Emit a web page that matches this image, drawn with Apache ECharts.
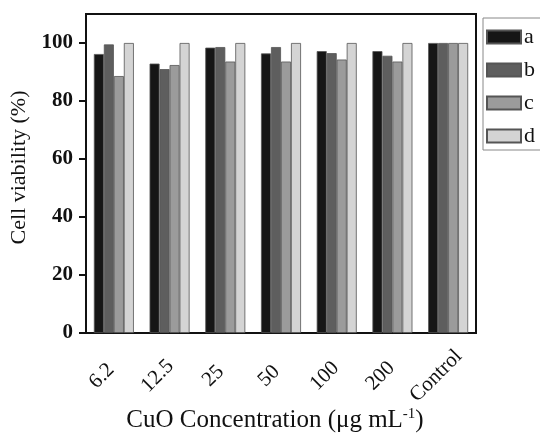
<!DOCTYPE html>
<html>
<head>
<meta charset="utf-8">
<script src="https://cdn.jsdelivr.net/npm/echarts@6/dist/echarts.min.js"></script>
<style>
  html, body { margin: 0; padding: 0; background: #fff; }
  #myChart { width: 540px; height: 433px; }
</style>
</head>
<body>
<div id="myChart"></div>
<script>
const categories = ['6.2', '12.5', '25', '50', '100', '200', 'Control']
const seriesNames = ['a', 'b', 'c', 'd']
const valuesA = [96.2, 92.9, 98.4, 96.4, 97.2, 97.2, 100]
const valuesB = [99.5, 91.0, 98.6, 98.6, 96.5, 95.6, 100]
const valuesC = [88.6, 92.4, 93.6, 93.6, 94.3, 93.6, 100]
const valuesD = [100, 100, 100, 100, 100, 100, 100]
const yTicks = [0, 20, 40, 60, 80, 100]

const colors = ['#161616', '#5e5e5e', '#9b9b9b', '#d4d4d4']
const fontFamily = '"Liberation Serif", "DejaVu Serif", serif'

const chart = echarts.init(document.getElementById('myChart'))

const series = [valuesA, valuesB, valuesC, valuesD].map((data, index) => {
  return {
    name: seriesNames[index],
    type: 'bar',
    data: data,
    barWidth: 10,
    barGap: '0%',
    itemStyle: {
      color: colors[index],
      borderColor: '#555',
      borderWidth: 0.8
    }
  }
})

chart.setOption({
  animation: false,
  color: colors,
  grid: {
    left: 86,
    right: 64,
    top: 14,
    bottom: 100,
    outerBoundsMode: 'none',
    containLabel: false,
    show: true,
    borderColor: '#111',
    borderWidth: 2
  },
  legend: {
    orient: 'vertical',
    left: 483,
    top: 18,
    padding: [8, 8, 3, 3],
    itemWidth: 34,
    itemHeight: 13,
    itemGap: 11,
    borderColor: '#888',
    borderWidth: 1,
    icon: 'rect',
    textStyle: {
      fontFamily: fontFamily,
      fontSize: 22,
      color: '#111',
      padding: [0, 0, 2, -2]
    }
  },
  xAxis: {
    type: 'category',
    data: categories,
    name: 'CuO Concentration (μg mL{sup|-1})',
    nameLocation: 'middle',
    nameGap: 74,
    nameMoveOverlap: false,
    nameTextStyle: {
      fontFamily: fontFamily,
      fontSize: 25,
      color: '#111',
      padding: [0, 12, 0, 0],
      rich: {
        sup: {
          fontFamily: fontFamily,
          fontSize: 15,
          color: '#111',
          verticalAlign: 'top',
          padding: [0, 0, 12, 0]
        }
      }
    },
    axisLine: { lineStyle: { color: '#111', width: 2 } },
    axisTick: { alignWithLabel: true, length: 7, lineStyle: { color: '#111', width: 2 } },
    axisLabel: {
      rotate: 45,
      margin: 31,
      align: 'center',
      verticalAlign: 'middle',
      padding: [0, 34, 29, 0],
      fontFamily: fontFamily,
      fontSize: 21,
      color: '#111'
    }
  },
  yAxis: {
    type: 'value',
    min: 0,
    max: 110,
    interval: 20,
    name: 'Cell viability (%)',
    nameLocation: 'middle',
    nameGap: 54,
    nameTextStyle: {
      fontFamily: fontFamily,
      fontSize: 22,
      color: '#111',
      padding: [0, 0, 0, 12]
    },
    axisLine: { show: true, lineStyle: { color: '#111', width: 2 } },
    axisTick: { show: true, length: 7, customValues: yTicks, lineStyle: { color: '#111', width: 2 } },
    axisLabel: {
      customValues: yTicks,
      margin: 13,
      fontFamily: fontFamily,
      fontSize: 21,
      fontWeight: 'bold',
      color: '#111'
    },
    splitLine: { show: false }
  },
  series: series
})
</script>
</body>
</html>
